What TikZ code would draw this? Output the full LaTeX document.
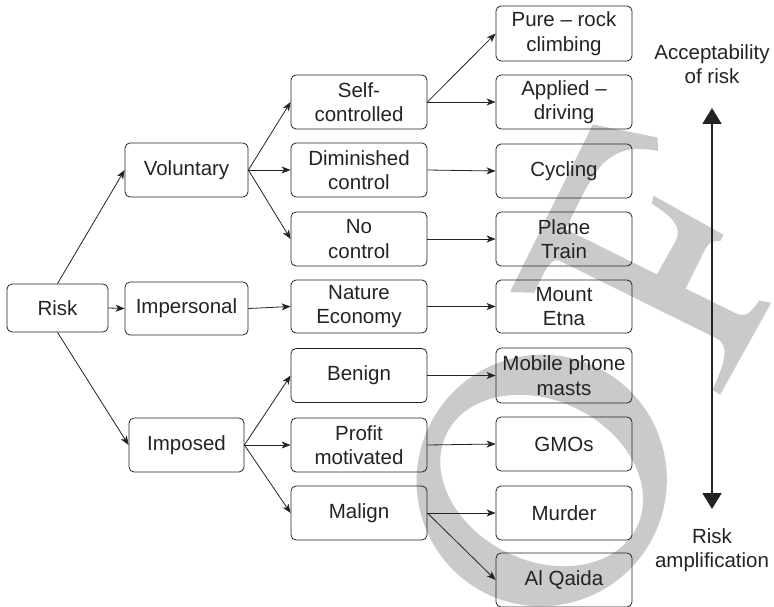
\documentclass[tikz,border=0pt]{standalone}
\usepackage{fontspec}
\setmainfont{Liberation Sans}
\usetikzlibrary{arrows.meta}
\definecolor{wmgray}{RGB}{202,202,202}
\definecolor{ink}{RGB}{35,35,35}
\begin{document}
\begin{tikzpicture}[x=1pt,y=-1pt,
  box/.style={draw=ink, line width=0.8pt, rounded corners=5pt, align=center,
    inner sep=0pt, text=ink, minimum height=54pt,
    font=\fontsize{20.5}{24.5}\selectfont},
  wide/.style={box, minimum width=136pt},
  label/.style={align=center, text=ink, inner sep=0pt,
    font=\fontsize{20.5}{24.5}\selectfont},
  link/.style={draw=ink, line width=0.8pt,
    -{Stealth[length=9pt,width=7pt,inset=2.5pt]}},
  scale arrow/.style={draw=ink, line width=2pt,
    {Triangle[length=16pt,width=19pt]}-{Triangle[length=16pt,width=19pt]}},
  glyph frame/.style={shift={(510,292)}, x={(0.443pt,0.896pt)}, y={(0.896pt,-0.443pt)}}]
\useasboundingbox (0,0) rectangle (774,607);

% watermark letters "O" and "F", set on a slanted baseline, behind everything
\begin{scope}[glyph frame]
  % O: thick along the letter's width, thin along its height
  \fill[wmgray, even odd rule]
    (-155,112) ellipse [x radius=126, y radius=125]
    (-155,112) ellipse [x radius=80, y radius=106];
  % F: top arm, stem, middle arm and foot
  \fill[wmgray]
    (0,0) -- (187,0) -- (204,64) -- (192,70)
    .. controls (186,48) and (178,36) .. (160,28)
    .. controls (150,23) and (130,22) .. (110,22)
    -- (81,22) -- (81,124)
    -- (120,126) .. controls (134,126) and (140,112) .. (142,88)
    -- (150,86) -- (146,166) -- (139,166)
    .. controls (136,158) and (132,156) .. (122,156)
    -- (81,156) -- (81,212)
    .. controls (81,222) and (88,226) .. (103,227)
    -- (106,239) -- (1,234) -- (2,225)
    .. controls (30,224) and (50,222) .. (50,205)
    -- (50,30) .. controls (50,24) and (40,22) .. (30,22)
    -- (10,22) -- cycle;
\end{scope}

% root and first level
\node[box, minimum width=101pt, minimum height=48pt] (risk) at (57.5,308) {Risk};
\node[box, minimum width=123pt] (vol) at (186.5,170) {Voluntary};
\node[box, minimum width=123pt, minimum height=53pt] (imp) at (186.5,308.5) {Impersonal};
\node[box, minimum width=115pt] (pos) at (186.5,445) {Imposed};

% second level
\node[wide] (self) at (359,102) {Self-\\controlled};
\node[wide] (dim) at (359,170) {Diminished\\control};
\node[wide] (noc) at (359,239) {No\\control};
\node[wide, minimum height=53pt] (nat) at (359,306.5) {Nature\\Economy};
\node[wide] (ben) at (359,375.5) {Benign};
\node[wide] (pro) at (359,445) {Profit\\motivated};
\node[wide] (mal) at (359,513) {Malign};

% examples
\node[wide, minimum height=55pt] (pure) at (564,33.5) {Pure -- rock\\climbing};
\node[wide] (app) at (564,102) {Applied --\\driving};
\node[wide] (cyc) at (564,171) {Cycling};
\node[wide] (pla) at (564,239) {Plane\\Train};
\node[wide, minimum height=53pt] (etn) at (564,306.5) {Mount\\Etna};
\node[wide, minimum height=55pt] (mob) at (564,375.5) {Mobile phone\\masts};
\node[wide] (gmo) at (564,444) {GMOs};
\node[wide] (mur) at (564,513) {Murder};
\node[wide] (alq) at (564,580) {Al Qaida};

% scale on the right
\node[label] (acc) at (712,64) {Acceptability\\of risk};
\node[label] (amp) at (712,550) {Risk\\amplification};
\coordinate (scaletop) at (712,108);
\coordinate (scalebot) at (712,509);
\draw[scale arrow] (scaletop) -- (scalebot);

% connectors
\draw[link] (risk.north) -- (vol.west);
\draw[link] (risk.east) -- (imp.west);
\draw[link] (risk.south) -- (pos.west);

\draw[link] (vol.east) -- (self.west);
\draw[link] (vol.east) -- (dim.west);
\draw[link] (vol.east) -- (noc.west);
\draw[link] (imp.east) -- (nat.west);
\draw[link] (pos.east) -- (ben.west);
\draw[link] (pos.east) -- (pro.west);
\draw[link] (pos.east) -- (mal.west);

\draw[link] (self.east) -- (pure.west);
\draw[link] (self.east) -- (app.west);
\draw[link] (dim.east) -- (cyc.west);
\draw[link] (noc.east) -- (pla.west);
\draw[link] (nat.east) -- (etn.west);
\draw[link] (ben.east) -- (mob.west);
\draw[link] (pro.east) -- (gmo.west);
\draw[link] (mal.east) -- (mur.west);
\draw[link] (mal.east) -- (alq.west);
\end{tikzpicture}
\end{document}
